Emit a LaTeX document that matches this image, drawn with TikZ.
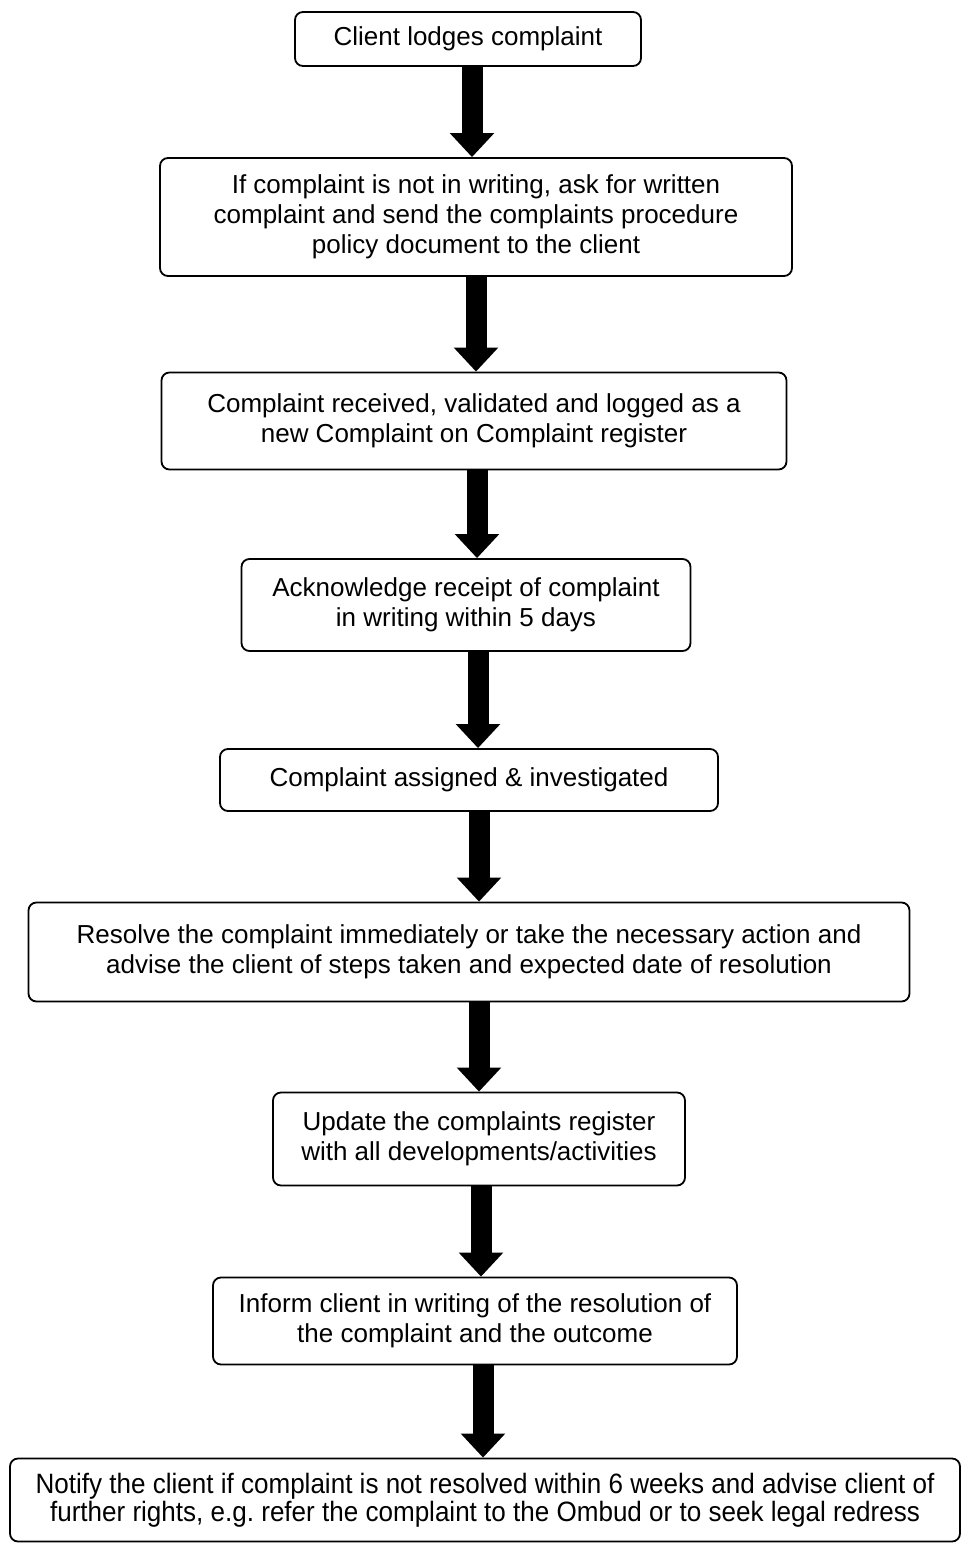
\documentclass[tikz,border=0pt]{standalone}
\usepackage{fontspec}
\setmainfont{Liberation Sans}
\usetikzlibrary{arrows.meta}
\tikzset{
  stepbox/.style={draw=black, line width=1.8pt, rounded corners=8pt, fill=white,
    align=center, inner sep=0pt, font=\fontsize{26}{30}\selectfont},
  bigarrow/.style={line width=21pt, -{Triangle[width=43pt,length=24pt]}, draw=black}
}
\begin{document}
\begin{tikzpicture}[x=1pt,y=-1pt]
\useasboundingbox (0,0) rectangle (961,1544);
\node[stepbox, minimum width=346pt, minimum height=54pt] (n1) at (468,39) {\raisebox{-2pt}{Client lodges complaint}};
\node[stepbox, minimum width=632pt, minimum height=118pt] (n2) at (476,217) {If complaint is not in writing, ask for written\\complaint and send the complaints procedure\\policy document to the client};
\node[stepbox, minimum width=625pt, minimum height=97pt] (n3) at (474,421) {Complaint received, validated and logged as a\\new Complaint on Complaint register};
\node[stepbox, minimum width=449pt, minimum height=92pt] (n4) at (466,605) {Acknowledge receipt of complaint\\in writing within 5 days};
\node[stepbox, minimum width=498pt, minimum height=62pt] (n5) at (469,780) {Complaint assigned \& investigated};
\node[stepbox, minimum width=881pt, minimum height=99pt] (n6) at (469,952) {Resolve the complaint immediately or take the necessary action and\\advise the client of steps taken and expected date of resolution};
\node[stepbox, minimum width=412pt, minimum height=93pt] (n7) at (479,1139) {Update the complaints register\\with all developments/activities};
\node[stepbox, minimum width=524pt, minimum height=87pt] (n8) at (475,1321) {Inform client in writing of the resolution of\\the complaint and the outcome};
\node[stepbox, minimum width=950pt, minimum height=83pt, font=\fontsize{28}{28}\selectfont\addfontfeatures{FakeStretch=0.93}] (n9) at (485,1500) {Notify the client if complaint is not resolved within 6 weeks and advise client of\\further rights, e.g.\ refer the complaint to the Ombud or to seek legal redress};
\draw[bigarrow] ([xshift=4pt]n1.south) -- ([xshift=4pt]n1.south |- n2.north);
\draw[bigarrow] (n2.south) -- (n2.south |- n3.north);
\draw[bigarrow] ([xshift=3pt]n3.south) -- ([xshift=3pt]n3.south |- n4.north);
\draw[bigarrow] ([xshift=12pt]n4.south) -- ([xshift=12pt]n4.south |- n5.north);
\draw[bigarrow] ([xshift=10pt]n5.south) -- ([xshift=10pt]n5.south |- n6.north);
\draw[bigarrow] ([xshift=10pt]n6.south) -- ([xshift=10pt]n6.south |- n7.north);
\draw[bigarrow] ([xshift=2pt]n7.south) -- ([xshift=2pt]n7.south |- n8.north);
\draw[bigarrow] ([xshift=8pt]n8.south) -- ([xshift=8pt]n8.south |- n9.north);
\end{tikzpicture}
\end{document}
